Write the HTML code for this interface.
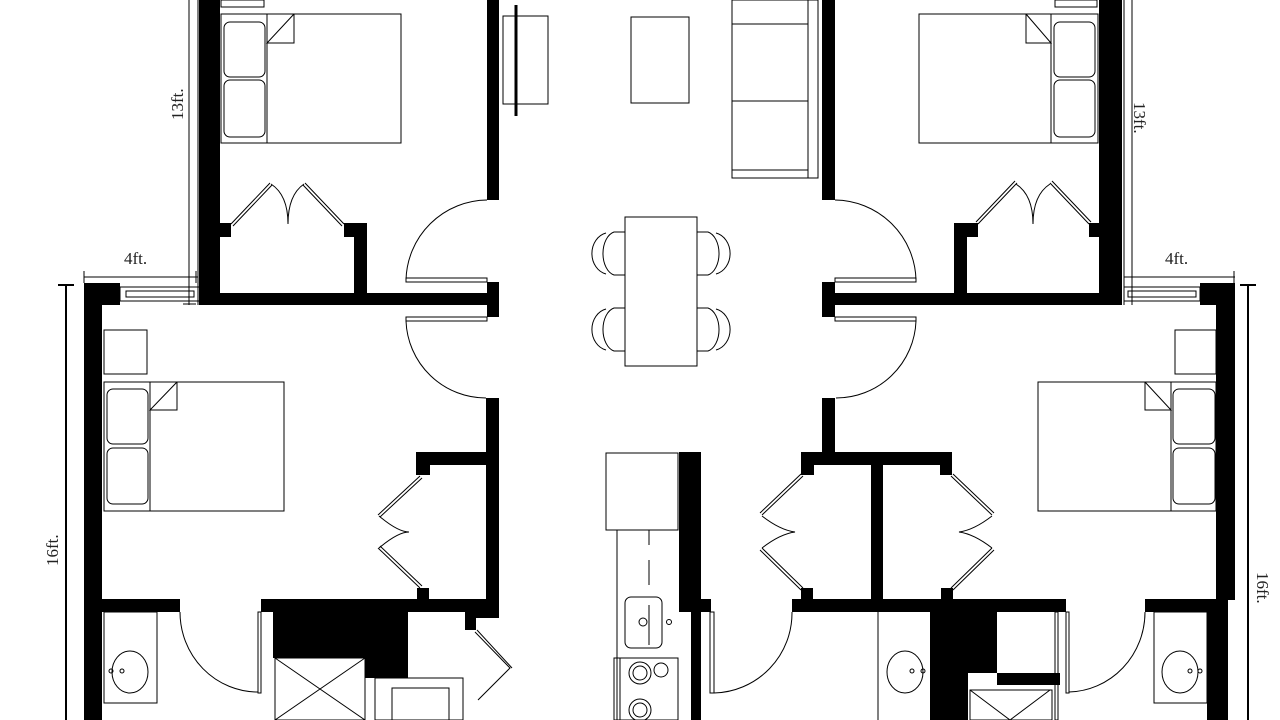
<!DOCTYPE html>
<html><head><meta charset="utf-8"><style>
html,body{margin:0;padding:0;background:#fff;}
svg{display:block}
</style></head><body>
<svg width="1280" height="720" viewBox="0 0 1280 720" xmlns="http://www.w3.org/2000/svg">
<g fill="#000" stroke="none">
<rect x="199" y="0" width="21" height="305"/>
<rect x="199" y="293" width="289" height="12"/>
<rect x="487" y="0" width="12" height="200"/>
<rect x="487" y="282" width="12" height="35"/>
<rect x="354" y="223" width="13" height="72"/>
<rect x="220" y="223" width="11" height="14"/>
<rect x="344" y="223" width="23" height="14"/>
<rect x="84" y="283" width="36" height="22"/>
<rect x="84" y="283" width="18" height="437"/>
<rect x="486" y="398" width="13" height="220"/>
<rect x="416" y="452" width="83" height="13"/>
<rect x="416" y="452" width="14" height="23"/>
<rect x="417" y="588" width="12" height="12"/>
<rect x="261" y="599" width="238" height="13"/>
<rect x="465" y="612" width="34" height="6"/>
<rect x="465" y="612" width="11" height="18"/>
<rect x="102" y="599" width="78" height="13"/>
<rect x="273" y="612" width="135" height="46"/>
<rect x="365" y="612" width="43" height="66"/>
<rect x="679" y="452" width="22" height="160"/>
<rect x="691" y="599" width="20" height="13"/>
<rect x="691" y="599" width="10" height="121"/>
<rect x="822" y="0" width="13" height="200"/>
<rect x="822" y="282" width="13" height="35"/>
<rect x="822" y="293" width="300" height="12"/>
<rect x="1099" y="0" width="23" height="305"/>
<rect x="954" y="223" width="13" height="72"/>
<rect x="954" y="223" width="24" height="14"/>
<rect x="1089" y="223" width="10" height="14"/>
<rect x="1200" y="283" width="35" height="22"/>
<rect x="1216" y="283" width="19" height="317"/>
<rect x="1207" y="599" width="21" height="121"/>
<rect x="822" y="398" width="13" height="60"/>
<rect x="801" y="452" width="151" height="13"/>
<rect x="801" y="452" width="13" height="23"/>
<rect x="940" y="452" width="12" height="23"/>
<rect x="871" y="452" width="12" height="148"/>
<rect x="792" y="599" width="274" height="13"/>
<rect x="801" y="588" width="12" height="12"/>
<rect x="941" y="588" width="12" height="12"/>
<rect x="1145" y="599" width="83" height="13"/>
<rect x="930" y="612" width="67" height="61"/>
<rect x="930" y="612" width="38" height="108"/>
<rect x="997" y="673" width="63" height="12"/>
</g>
<g fill="none" stroke="#000" stroke-width="1">
<line x1="189" y1="0" x2="189" y2="305"/><line x1="198" y1="0" x2="198" y2="305"/>
<line x1="84" y1="277" x2="198" y2="277"/><line x1="84" y1="271" x2="84" y2="283"/><line x1="196" y1="271" x2="196" y2="283"/>
<line x1="183" y1="304" x2="196" y2="304"/>
<line x1="66" y1="285" x2="66" y2="720" stroke-width="2"/><line x1="58" y1="285" x2="74" y2="285" stroke-width="2"/>
<line x1="1124" y1="0" x2="1124" y2="305"/><line x1="1132" y1="0" x2="1132" y2="305"/>
<line x1="1124" y1="277" x2="1235" y2="277"/><line x1="1234" y1="271" x2="1234" y2="283"/>
<line x1="1248" y1="285" x2="1248" y2="720" stroke-width="2"/><line x1="1240" y1="285" x2="1256" y2="285" stroke-width="2"/>
<rect x="120" y="287" width="80" height="14"/><rect x="126" y="291" width="68" height="6"/>
<rect x="1124" y="287" width="76" height="14"/><rect x="1128" y="291" width="68" height="6"/>
<rect x="221" y="0" width="43" height="7"/>
<rect x="221" y="14" width="180" height="129"/>
<line x1="267" y1="14" x2="267" y2="143"/>
<rect x="224" y="22" width="41" height="55" rx="6"/><rect x="224" y="80" width="41" height="57" rx="6"/>
<path d="M294 14 L294 43 L267 43 L294 14"/>
<path d="M231 224 L270 183 M233 226 L272 185 M344 224 L305 183 M342 226 L303 185"/>
<path d="M271 184 Q288 195 288 224 Q288 195 304 184"/>
<path d="M487 200 A82 82 0 0 0 406 280"/>
<rect x="406" y="278" width="81" height="4"/><rect x="406" y="317" width="81" height="4"/>
<path d="M406 321 A80 80 0 0 0 486 398"/>
<rect x="104" y="330" width="43" height="44"/>
<rect x="104" y="382" width="180" height="129"/>
<line x1="150" y1="382" x2="150" y2="511"/>
<rect x="107" y="389" width="41" height="55" rx="6"/><rect x="107" y="448" width="41" height="56" rx="6"/>
<path d="M177 382 L177 410 L150 410 L177 382"/>
<path d="M420 476 L378 515 M422 478 L380 517 M378 548 L420 588 M380 546 L422 586"/>
<path d="M379 516 Q398 532 409 532 Q398 532 379 548"/>
<path d="M180 612 A78 80 0 0 0 258 692"/><rect x="258" y="612" width="3" height="81"/>
<rect x="104" y="612" width="53" height="91"/><ellipse cx="130" cy="672" rx="18" ry="21"/>
<circle cx="111" cy="671" r="2"/><circle cx="122" cy="671" r="2"/>
<rect x="275" y="658" width="90" height="62"/><path d="M275 658 L365 720 M365 658 L275 720"/>
<rect x="375" y="678" width="88" height="42"/><rect x="392" y="688" width="57" height="32"/>
<path d="M475 632 L510 668 L478 700 M477 630 L512 668"/>
<rect x="503" y="16" width="45" height="88"/>
<line x1="516" y1="5" x2="516" y2="116" stroke-width="3"/>
<rect x="631" y="17" width="58" height="86"/>
<rect x="732" y="0" width="86" height="178"/><line x1="732" y1="24" x2="808" y2="24"/><line x1="732" y1="101" x2="808" y2="101"/><line x1="808" y1="0" x2="808" y2="178"/><line x1="732" y1="170" x2="808" y2="170"/>
<rect x="625" y="217" width="72" height="149"/>
<path d="M625 232 L614 232 A14 22 0 0 0 614 275 L625 275 M606 233 A18 21 0 0 0 606 274"/>
<path d="M625 308 L614 308 A14 22 0 0 0 614 351 L625 351 M606 309 A18 21 0 0 0 606 350"/>
<path d="M697 232 L708 232 A14 22 0 0 1 708 275 L697 275 M716 233 A18 21 0 0 1 716 274"/>
<path d="M697 308 L708 308 A14 22 0 0 1 708 351 L697 351 M716 309 A18 21 0 0 1 716 350"/>
<rect x="606" y="453" width="72" height="77"/>
<line x1="617" y1="530" x2="617" y2="720"/>
<path d="M649 530 L649 545 M649 560 L649 585 M649 605 L649 645" />
<rect x="625" y="597" width="37" height="51" rx="6"/><circle cx="643" cy="622" r="4"/><circle cx="669" cy="622" r="2.5"/>
<rect x="614" y="658" width="64" height="62"/><line x1="620" y1="658" x2="620" y2="720"/>
<circle cx="640" cy="673" r="11"/><circle cx="640" cy="673" r="7"/><circle cx="661" cy="670" r="7"/>
<circle cx="640" cy="710" r="11"/><circle cx="640" cy="710" r="7"/>
<rect x="1055" y="0" width="42" height="7"/>
<rect x="919" y="14" width="179" height="129"/>
<line x1="1051" y1="14" x2="1051" y2="143"/>
<rect x="1054" y="22" width="41" height="55" rx="6"/><rect x="1054" y="80" width="41" height="57" rx="6"/>
<path d="M1026 14 L1026 43 L1051 43 L1026 14"/>
<path d="M978 224 L1017 183 M976 222 L1015 181 M1089 224 L1050 183 M1091 222 L1052 181"/>
<path d="M1016 184 Q1033 195 1033 224 Q1033 195 1050 184"/>
<path d="M835 200 A82 82 0 0 1 916 280"/>
<rect x="835" y="278" width="81" height="4"/><rect x="835" y="317" width="81" height="4"/>
<path d="M916 321 A80 80 0 0 1 836 398"/>
<rect x="1175" y="330" width="41" height="44"/>
<rect x="1038" y="382" width="178" height="129"/>
<line x1="1171" y1="382" x2="1171" y2="511"/>
<rect x="1173" y="389" width="42" height="55" rx="6"/><rect x="1173" y="448" width="42" height="56" rx="6"/>
<path d="M1145 382 L1145 410 L1171 410 L1145 382"/>
<path d="M803 476 L762 515 M801 474 L760 513 M762 548 L803 588 M760 550 L801 590"/>
<path d="M762 516 Q780 530 795 532 Q780 534 762 548"/>
<path d="M951 476 L992 515 M953 474 L994 513 M992 548 L951 588 M994 550 L953 590"/>
<path d="M992 516 Q974 530 959 532 Q974 534 992 548"/>
<path d="M792 612 A80 80 0 0 1 714 693"/><rect x="710" y="612" width="4" height="81"/>
<line x1="878" y1="612" x2="878" y2="720"/><ellipse cx="905" cy="672" rx="18" ry="21"/>
<circle cx="912" cy="671" r="2"/><circle cx="923" cy="671" r="2"/>
<rect x="970" y="690" width="82" height="30"/><path d="M970 690 L1010 720 M1050 690 L1010 720"/>
<rect x="1055" y="612" width="3" height="108"/>
<path d="M1145 612 A78 80 0 0 1 1069 692"/><rect x="1066" y="612" width="3" height="81"/>
<rect x="1154" y="612" width="53" height="91"/><ellipse cx="1180" cy="672" rx="18" ry="21"/>
<circle cx="1190" cy="671" r="2"/><circle cx="1200" cy="671" r="2"/>
</g>
<g font-family="Liberation Serif, serif" font-size="17" fill="#222">
<text x="124" y="264">4ft.</text>
<text x="1165" y="264">4ft.</text>
<text transform="translate(183,120) rotate(-90)">13ft.</text>
<text transform="translate(1134,102) rotate(90)">13ft.</text>
<text transform="translate(58,566) rotate(-90)">16ft.</text>
<text transform="translate(1257,572) rotate(90)">16ft.</text>
</g>
</svg>
</body></html>
